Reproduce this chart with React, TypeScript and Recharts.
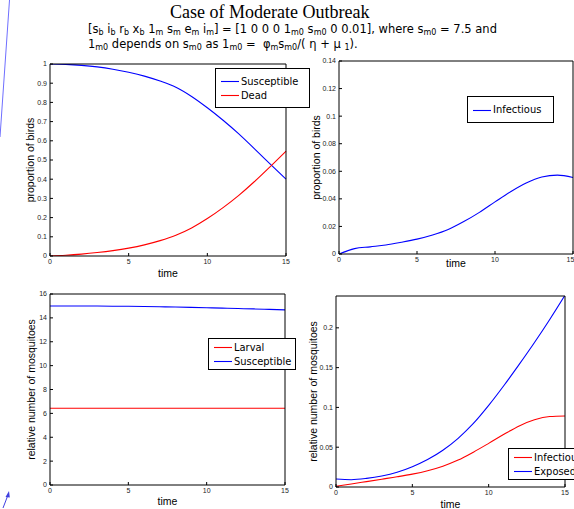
import React from "react";
import { Label, Legend, Line, LineChart, XAxis, YAxis } from "recharts";

const TIME = [0, 1, 2, 3, 4, 5, 6, 7, 8, 9, 10, 11, 12, 13, 14, 15];
const TIME_TICKS = [0, 5, 10, 15];

// birds
const birdSusceptible = [1.0, 0.998, 0.993, 0.985, 0.973, 0.957, 0.937, 0.911, 0.879, 0.831, 0.772, 0.707, 0.636, 0.558, 0.479, 0.4];
const birdDead = [0, 0.004, 0.01, 0.018, 0.028, 0.041, 0.058, 0.08, 0.108, 0.146, 0.195, 0.252, 0.316, 0.388, 0.466, 0.546];
const birdInfectious = [0, 0.0039, 0.0052, 0.0065, 0.0085, 0.0108, 0.0138, 0.0178, 0.0235, 0.0302, 0.0378, 0.0452, 0.0515, 0.0558, 0.0572, 0.0555];

// mosquitoes
const mosqLarval = [6.43, 6.43, 6.43, 6.43, 6.43, 6.43, 6.43, 6.43, 6.43, 6.43, 6.43, 6.43, 6.43, 6.43, 6.43, 6.43];
const mosqSusceptible = [15.0, 15.0, 15.0, 14.99, 14.98, 14.97, 14.95, 14.93, 14.91, 14.88, 14.85, 14.82, 14.78, 14.75, 14.71, 14.67];
const mosqInfectious = [0.001, 0.0038, 0.0068, 0.0098, 0.0128, 0.0162, 0.0205, 0.0262, 0.0338, 0.0438, 0.0548, 0.0662, 0.0768, 0.0845, 0.0885, 0.0892];
const mosqExposed = [0.01, 0.0092, 0.0108, 0.0138, 0.0185, 0.0255, 0.0345, 0.0462, 0.0612, 0.0798, 0.1025, 0.1275, 0.154, 0.1815, 0.2105, 0.241];

const ticksBirds = [0, 0.1, 0.2, 0.3, 0.4, 0.5, 0.6, 0.7, 0.8, 0.9, 1];
const ticksBirdInf = [0, 0.02, 0.04, 0.06, 0.08, 0.1, 0.12, 0.14];
const ticksMosq = [0, 2, 4, 6, 8, 10, 12, 14, 16];
const ticksMosqInf = [0, 0.05, 0.1, 0.15, 0.2];

type Series = { key: string; name: string; color: string; values: number[] };
type Box = { left: number; top: number; right: number; bottom: number };

type PanelProps = {
  box: Box; // chart box, page coords
  plot: Box; // plot area, page coords
  series: Series[];
  yDomain: [number, number];
  yTicks: number[];
  yLabel: string;
  yLabelX: number;
  xLabelY: number;
  legendPos: { left: number; top: number; width: number; height: number };
};

const SANS = "'Liberation Sans', Arial, sans-serif";
const LEGEND_FONT = "'DejaVu Sans Condensed', 'Liberation Sans', sans-serif";

function Panel({ box, plot, series, yDomain, yTicks, yLabel, yLabelX, xLabelY, legendPos }: PanelProps) {
  const width = box.right - box.left;
  const height = box.bottom - box.top;
  const data = TIME.map((t, i) => {
    const row: Record<string, number> = { t };
    series.forEach((s) => (row[s.key] = s.values[i]));
    return row;
  });
  const tickStyle = { fontSize: 7, fill: "#222", fontFamily: SANS };
  return (
    <div style={{ position: "absolute", left: box.left, top: box.top }}>
      <LineChart
        width={width}
        height={height}
        data={data}
        margin={{ top: plot.top - box.top - 1, right: box.right - plot.right - 1, left: 0, bottom: 0 }}
      >
        <XAxis
          dataKey="t"
          type="number"
          domain={[0, 15]}
          ticks={TIME_TICKS}
          height={box.bottom - plot.bottom}
          tickSize={-3}
          tickMargin={6}
          tick={tickStyle}
          stroke="#000"
        >
          <Label
            content={(p: any) => (
              <text
                x={p.viewBox.x + p.viewBox.width / 2}
                y={xLabelY - box.top}
                textAnchor="middle"
                fontSize={10.5}
                fontFamily={SANS}
                fill="#000"
              >
                time
              </text>
            )}
          />
        </XAxis>
        <XAxis
          xAxisId="top"
          orientation="top"
          type="number"
          domain={[0, 15]}
          ticks={TIME_TICKS}
          height={1}
          tickSize={-3}
          tick={false}
          stroke="#000"
        />
        <YAxis
          type="number"
          domain={yDomain}
          ticks={yTicks}
          width={plot.left - box.left}
          tickSize={-3}
          tickMargin={6}
          tick={tickStyle}
          stroke="#000"
          allowDataOverflow
        >
          <Label
            content={(p: any) => {
              const cx = yLabelX - box.left;
              const cy = p.viewBox.y + p.viewBox.height / 2;
              return (
                <text
                  x={cx}
                  y={cy}
                  transform={`rotate(-90 ${cx} ${cy})`}
                  textAnchor="middle"
                  dominantBaseline="central"
                  fontSize={10.5}
                  fontFamily={SANS}
                  fill="#000"
                >
                  {yLabel}
                </text>
              );
            }}
          />
        </YAxis>
        <YAxis
          yAxisId="right"
          orientation="right"
          type="number"
          domain={yDomain}
          ticks={yTicks}
          width={1}
          tickSize={-3}
          tick={false}
          stroke="#000"
        />
        <Legend
          layout="horizontal"
          verticalAlign="middle"
          align="center"
          wrapperStyle={{ left: legendPos.left - box.left, top: legendPos.top - box.top, width: legendPos.width }}
          content={() => (
            <div
              style={{
                border: "1px solid #000",
                background: "#fff",
                paddingLeft: 5,
                width: legendPos.width,
                height: legendPos.height,
                boxSizing: "border-box",
                whiteSpace: "nowrap",
                overflow: "hidden",
                display: "flex",
                flexDirection: "column",
                justifyContent: "center",
              }}
            >
              {series.map((s) => (
                <div key={s.key} style={{ display: "flex", alignItems: "center", height: 14 }}>
                  <svg width={20} height={14} style={{ flex: "none", display: "block" }}>
                    <line x1={0} y1={7.5} x2={18} y2={7.5} stroke={s.color} strokeWidth={1.1} />
                  </svg>
                  <span style={{ fontFamily: LEGEND_FONT, fontSize: 11, color: "#000" }}>{s.name}</span>
                </div>
              ))}
            </div>
          )}
        />
        {series.map((s) => (
          <Line
            key={s.key}
            dataKey={s.key}
            name={s.name}
            type="monotone"
            stroke={s.color}
            strokeWidth={1.1}
            dot={false}
            isAnimationActive={false}
          />
        ))}
      </LineChart>
    </div>
  );
}

const sub = (t: string) => <sub style={{ fontSize: 8, verticalAlign: "-2px", lineHeight: 0 }}>{t}</sub>;

export default function App() {
  return (
    <div style={{ position: "absolute", left: 0, top: 0, width: 574, height: 509, background: "#fff", overflow: "hidden" }}>
      <Panel
        box={{ left: 0, top: 56, right: 292, bottom: 280 }}
        plot={{ left: 50, top: 64, right: 286, bottom: 256 }}
        series={[
          { key: "sus", name: "Susceptible", color: "#0000ff", values: birdSusceptible },
          { key: "dead", name: "Dead", color: "#ff0000", values: birdDead },
        ]}
        yDomain={[0, 1]}
        yTicks={ticksBirds}
        yLabel="proportion of birds"
        yLabelX={30}
        xLabelY={277}
        legendPos={{ left: 215, top: 68, width: 95, height: 40 }}
      />
      <Panel
        box={{ left: 295, top: 55, right: 574, bottom: 285 }}
        plot={{ left: 339, top: 61, right: 573, bottom: 254 }}
        series={[{ key: "inf", name: "Infectious", color: "#0000ff", values: birdInfectious }]}
        yDomain={[0, 0.14]}
        yTicks={ticksBirdInf}
        yLabel="proportion of birds"
        yLabelX={316}
        xLabelY={267}
        legendPos={{ left: 467, top: 96, width: 87, height: 27 }}
      />
      <Panel
        box={{ left: 0, top: 286, right: 292, bottom: 509 }}
        plot={{ left: 50, top: 294, right: 285, bottom: 485 }}
        series={[
          { key: "lar", name: "Larval", color: "#ff0000", values: mosqLarval },
          { key: "sus", name: "Susceptible", color: "#0000ff", values: mosqSusceptible },
        ]}
        yDomain={[0, 16]}
        yTicks={ticksMosq}
        yLabel="relative number of mosquitoes"
        yLabelX={31}
        xLabelY={505}
        legendPos={{ left: 208, top: 338, width: 88, height: 32 }}
      />
      <Panel
        box={{ left: 292, top: 288, right: 574, bottom: 509 }}
        plot={{ left: 336, top: 296, right: 565, bottom: 487 }}
        series={[
          { key: "inf", name: "Infectious", color: "#ff0000", values: mosqInfectious },
          { key: "exp", name: "Exposed", color: "#0000ff", values: mosqExposed },
        ]}
        yDomain={[0, 0.24]}
        yTicks={ticksMosqInf}
        yLabel="relative number of mosquitoes"
        yLabelX={313}
        xLabelY={508}
        legendPos={{ left: 508, top: 448, width: 80, height: 32 }}
      />

      <div
        style={{
          position: "absolute",
          left: 170,
          top: 2,
          fontFamily: "'Liberation Serif', 'Times New Roman', serif",
          fontSize: 18,
          lineHeight: "20px",
          whiteSpace: "nowrap",
        }}
      >
        Case of Moderate Outbreak
      </div>
      <div
        style={{
          position: "absolute",
          left: 88,
          top: 22,
          fontFamily: "'DejaVu Sans', Verdana, sans-serif",
          fontSize: 11.5,
          lineHeight: "15px",
          whiteSpace: "nowrap",
        }}
      >
        <div>
          [s{sub("b")} i{sub("b")} r{sub("b")} x{sub("b")} 1{sub("m")} s{sub("m")} e{sub("m")} i{sub("m")}] = [1 0 0 0 1{sub("m0")} s{sub("m0")} 0 0.01], where s{sub("m0")} = 7.5 and
        </div>
        <div>
          1{sub("m0")} depends on s{sub("m0")} as 1{sub("m0")} = &nbsp;φ{sub("m")}s{sub("m0")}/( η + μ {sub("1")}).
        </div>
      </div>

      <svg width={574} height={509} style={{ position: "absolute", left: 0, top: 0, pointerEvents: "none" }}>
        <line x1={9.5} y1={0} x2={0} y2={137} stroke="#6f6fff" strokeWidth={1} />
        <line x1={3} y1={508} x2={8} y2={495} stroke="#4040e0" strokeWidth={1} />
        <polygon points="9,491 5.5,497 9.8,497.5" fill="#4040e0" />
      </svg>
    </div>
  );
}
